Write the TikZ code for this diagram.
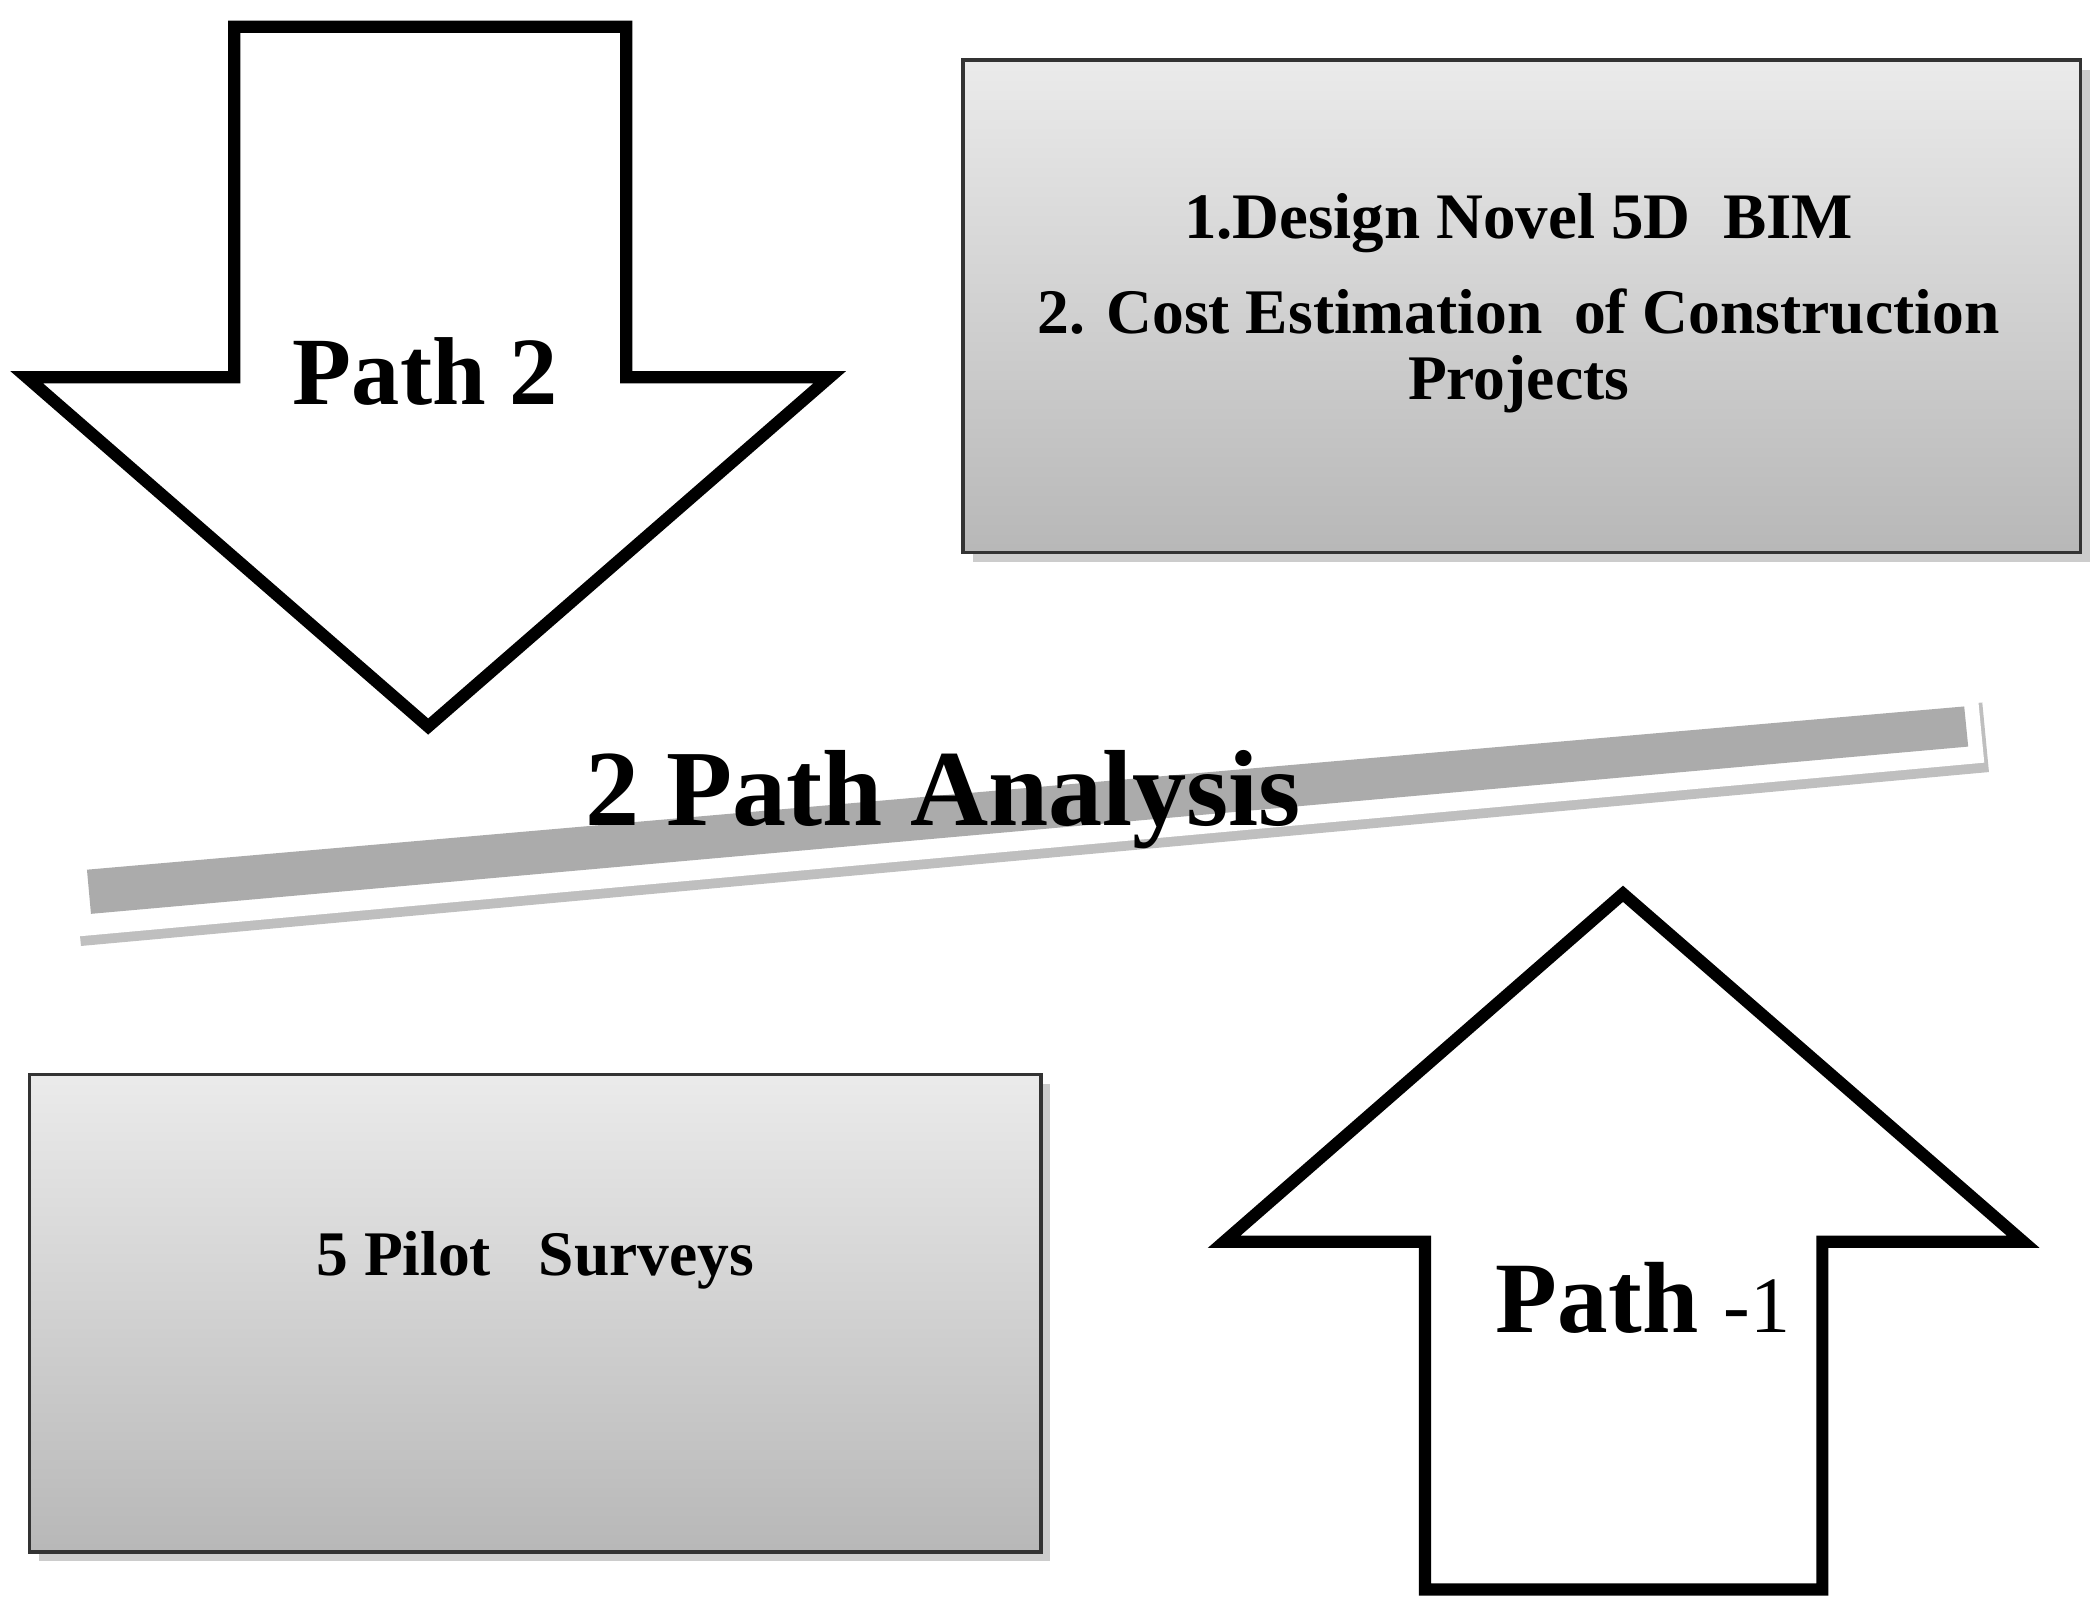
\documentclass[tikz,border=0pt]{standalone}
\usepackage{fontspec}
\setmainfont{Liberation Serif}
\usetikzlibrary{shadows}
\begin{document}
\begin{tikzpicture}[x=0.01cm,y=-0.01cm,
 arr/.style={draw=black,line width=2.6pt,fill=white,line join=miter},
 gbox/.style={draw=black!80,line width=0.8pt,top color=white!92!black,bottom color=black!28,drop shadow={shadow xshift=2pt,shadow yshift=-2pt,opacity=0.4}},
 btxt/.style={font=\bfseries,align=center}]
\useasboundingbox (0,0) rectangle (1568,1207);
% Path 2 arrow
\draw[arr] (175,20) -- (468,20) -- (468,282) -- (620,282) -- (320,543) -- (20,282) -- (175,282) -- cycle;
\node[btxt,font=\bfseries\fontsize{20.5}{24}\selectfont] (p2) at (318,278) {Path 2};
% Path -1 arrow
\draw[arr] (1213,668) -- (1512,928) -- (1362,928) -- (1362,1188) -- (1065,1188) -- (1065,928) -- (915,928) -- cycle;
\node[font=\bfseries\fontsize{21.5}{26}\selectfont] (p1) at (1228,970) {Path \textmd{\fontsize{17}{20}\selectfont -1}};
% boxes
\path[gbox] (720,45) rectangle (1555,413);
\node[btxt,font=\bfseries\fontsize{13.8}{16}\selectfont] (t1) at (1135,167) {1.Design Novel 5D\ \ BIM};
\node[btxt,font=\bfseries\fontsize{13.5}{16}\selectfont] (t2) at (1135,262) {2. Cost Estimation\ \ of Construction\\[-2pt]Projects};
\path[gbox] (22,803) rectangle (778,1160);
\node[btxt,font=\bfseries\fontsize{13.5}{16}\selectfont] (t3) at (400,942) {5 Pilot\ \ \ Surveys};
% bar
\path[fill=white,drop shadow={shadow xshift=1pt,shadow yshift=-2pt,opacity=0.5}] (52,648) -- (1478,518) -- (1483,570) -- (57,700) -- cycle;
\path[fill=black!33] (65,650) -- (1468,528) -- (1471,558) -- (68,683) -- cycle;
\node[font=\bfseries\fontsize{23}{28}\selectfont] (t4) at (705,598) {2 Path Analysis};
\end{tikzpicture}
\end{document}
